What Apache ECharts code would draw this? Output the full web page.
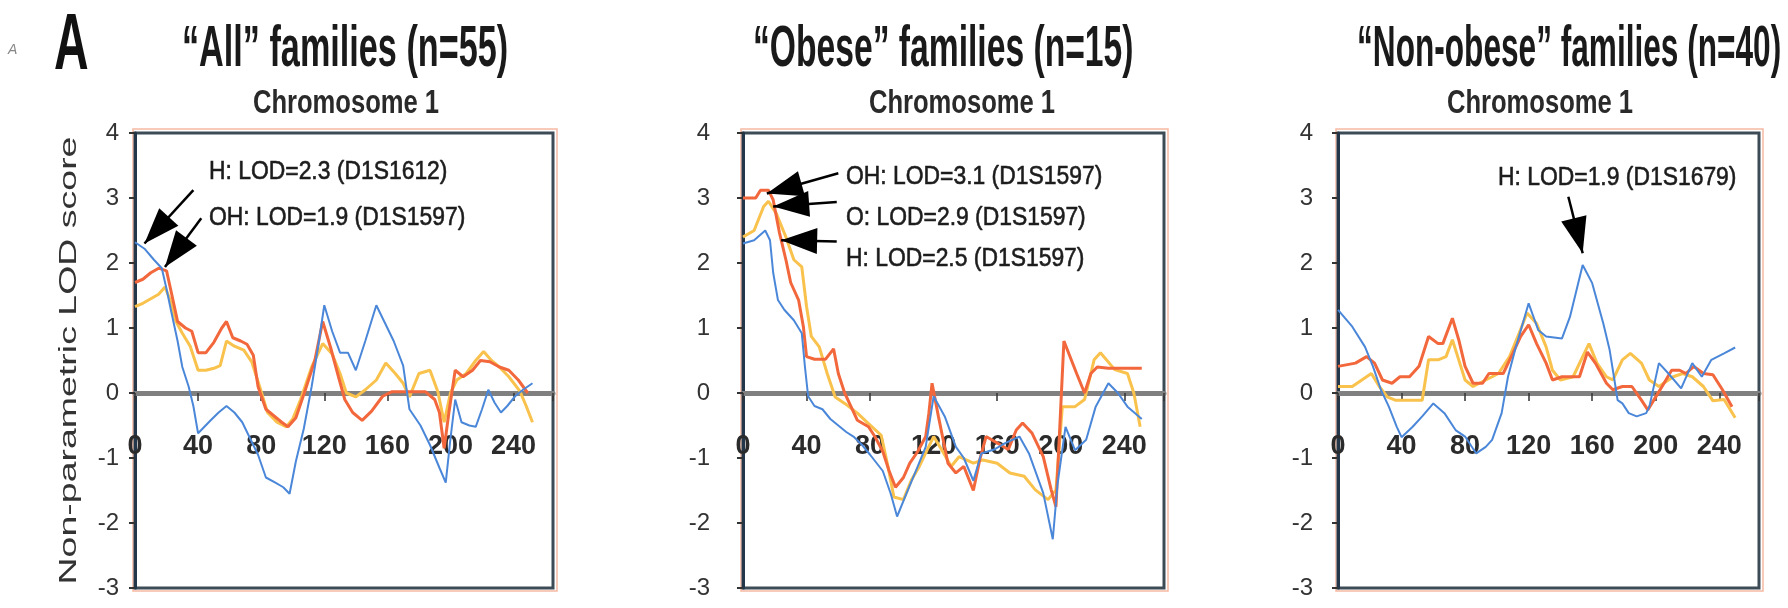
<!DOCTYPE html>
<html><head><meta charset="utf-8">
<script src="https://cdn.jsdelivr.net/npm/echarts/dist/echarts.min.js"></script>
<style>html,body{margin:0;padding:0;background:#fff;overflow:hidden}#c{width:1788px;height:608px}</style>
</head><body><div id="c"></div>
<script>
// ---------- DATA (position cM, non-parametric LOD) ----------
const xTicks = [0, 40, 80, 120, 160, 200, 240];
const yTicks = [-3, -2, -1, 0, 1, 2, 3, 4];
const panelTitles = ['\u201CAll\u201D families (n=55)', '\u201CObese\u201D families (n=15)', '\u201CNon-obese\u201D families (n=40)'];
const chromLabel = 'Chromosome 1';
const yAxisName = 'Non-parametric LOD score';

// "All" families
const allH = [[0,2.32],[6,2.22],[12,2.05],[17,1.92],[20,1.6],[23,1.25],[27,0.8],[30,0.4],[34,0.1],[37,-0.2],[40,-0.62],[44,-0.52],[48,-0.42],[53,-0.3],[58,-0.2],[63,-0.3],[68,-0.45],[73,-0.7],[78,-0.95],[83,-1.3],[89,-1.38],[94,-1.45],[98,-1.55],[102,-1.05],[107,-0.55],[112,0.1],[116,0.7],[120,1.35],[125,0.95],[130,0.62],[135,0.62],[140,0.35],[146,0.8],[153,1.35],[158,1.1],[164,0.8],[170,0.42],[174,-0.25],[181,-0.5],[187,-0.8],[193,-1.15],[197,-1.38],[200,-0.7],[203,-0.1],[207,-0.45],[212,-0.5],[216,-0.52],[220,-0.25],[224,0.05],[228,-0.15],[232,-0.3],[236,-0.2],[241,-0.05],[246,0.05],[252,0.15]];
const allOH = [[0,1.7],[5,1.75],[10,1.85],[15,1.92],[20,1.88],[23,1.55],[27,1.1],[32,1.0],[36,0.95],[40,0.62],[45,0.62],[50,0.78],[55,1.0],[58,1.1],[62,0.85],[67,0.8],[71,0.75],[75,0.58],[78,0.1],[83,-0.25],[88,-0.35],[93,-0.45],[97,-0.52],[102,-0.38],[108,0.05],[114,0.5],[119,1.1],[124,0.7],[129,0.25],[133,-0.1],[138,-0.3],[144,-0.42],[150,-0.28],[157,-0.05],[163,0.02],[170,0.02],[177,0.02],[184,0.02],[190,-0.1],[193,-0.3],[196,-0.85],[199,-0.3],[203,0.35],[208,0.25],[214,0.35],[219,0.5],[225,0.48],[231,0.4],[237,0.35],[243,0.2],[249,0.0]];
const allO = [[0,1.33],[5,1.38],[10,1.45],[15,1.52],[19,1.63],[22,1.45],[26,1.1],[30,0.92],[35,0.72],[40,0.35],[45,0.35],[50,0.38],[54,0.42],[58,0.8],[63,0.72],[69,0.66],[74,0.48],[79,0.1],[84,-0.3],[90,-0.45],[96,-0.52],[100,-0.4],[105,-0.1],[112,0.4],[119,0.76],[125,0.6],[130,0.3],[134,0.0],[140,-0.06],[146,0.05],[153,0.2],[159,0.46],[165,0.3],[170,0.15],[174,-0.06],[180,0.3],[187,0.35],[192,0.02],[196,-0.45],[200,0.0],[204,0.2],[210,0.3],[216,0.5],[221,0.64],[226,0.5],[231,0.4],[237,0.25],[244,0.03],[248,-0.2],[252,-0.45]];

// "Obese" families
const obeseH = [[0,2.3],[7,2.35],[14,2.5],[17,2.35],[19,1.85],[22,1.43],[26,1.28],[32,1.12],[37,0.92],[39,0.4],[41,-0.05],[45,-0.2],[50,-0.25],[55,-0.4],[60,-0.5],[65,-0.6],[70,-0.68],[75,-0.8],[80,-0.95],[88,-1.2],[93,-1.55],[97,-1.9],[103,-1.54],[110,-1.13],[115,-0.83],[120,-0.05],[127,-0.36],[134,-0.83],[139,-1.0],[145,-1.35],[150,-0.93],[158,-0.87],[165,-0.77],[174,-0.67],[180,-0.93],[189,-1.54],[195,-2.25],[198,-1.4],[203,-0.52],[209,-0.88],[216,-0.72],[222,-0.21],[230,0.15],[236,0.0],[242,-0.21],[251,-0.4]];
const obeseOH = [[0,3.0],[8,3.0],[11,3.12],[16,3.12],[19,2.97],[23,2.46],[27,2.05],[30,1.7],[35,1.43],[38,1.02],[40,0.56],[45,0.52],[52,0.52],[57,0.68],[60,0.3],[64,0.0],[68,-0.21],[72,-0.42],[79,-0.52],[83,-0.67],[88,-0.9],[92,-1.2],[96,-1.45],[101,-1.3],[105,-1.08],[110,-0.9],[115,-0.67],[117,-0.31],[119,0.15],[123,-0.36],[129,-1.08],[134,-1.23],[139,-1.13],[145,-1.5],[149,-1.03],[153,-0.67],[160,-0.77],[167,-0.87],[172,-0.57],[176,-0.46],[182,-0.62],[189,-0.98],[194,-1.49],[197,-1.75],[202,0.8],[210,0.3],[215,0.0],[219,0.3],[223,0.4],[230,0.38],[240,0.38],[251,0.38]];
const obeseO = [[0,2.4],[7,2.5],[13,2.87],[16,2.95],[21,2.76],[27,2.4],[32,2.05],[37,1.94],[40,1.33],[43,0.87],[48,0.71],[53,0.3],[58,-0.06],[64,-0.16],[72,-0.31],[79,-0.47],[87,-0.65],[91,-1.1],[95,-1.6],[101,-1.64],[106,-1.34],[111,-1.13],[116,-0.87],[120,-0.67],[125,-0.87],[131,-1.13],[136,-0.98],[145,-1.08],[151,-1.03],[160,-1.08],[168,-1.23],[177,-1.28],[184,-1.49],[192,-1.64],[197,-1.49],[201,-0.21],[209,-0.21],[215,-0.1],[221,0.51],[225,0.62],[234,0.36],[242,0.3],[246,0.0],[250,-0.52]];

// "Non-obese" families
const nonH = [[0,1.28],[9,1.02],[17,0.71],[22,0.41],[27,0.05],[32,-0.21],[37,-0.52],[40,-0.68],[47,-0.52],[53,-0.36],[60,-0.16],[67,-0.31],[74,-0.57],[80,-0.67],[87,-0.93],[93,-0.83],[97,-0.72],[103,-0.31],[107,0.25],[112,0.71],[120,1.38],[126,0.97],[131,0.87],[141,0.84],[146,1.17],[154,1.97],[160,1.69],[167,1.07],[171,0.66],[174,0.2],[176,-0.11],[179,-0.16],[183,-0.31],[188,-0.36],[194,-0.31],[196,-0.21],[202,0.46],[208,0.3],[216,0.07],[223,0.46],[229,0.25],[235,0.51],[243,0.61],[250,0.7]];
const nonOH = [[0,0.41],[11,0.46],[18,0.56],[23,0.46],[28,0.2],[34,0.15],[39,0.25],[45,0.25],[51,0.41],[57,0.87],[63,0.76],[66,0.76],[72,1.15],[76,0.82],[80,0.41],[85,0.15],[91,0.15],[95,0.3],[104,0.3],[110,0.61],[115,0.87],[120,1.05],[125,0.76],[131,0.46],[135,0.2],[141,0.25],[152,0.25],[157,0.63],[162,0.46],[169,0.15],[173,0.05],[179,0.1],[185,0.1],[191,-0.11],[195,-0.26],[200,-0.06],[204,0.1],[210,0.35],[215,0.35],[219,0.3],[224,0.41],[230,0.3],[236,0.28],[242,0.05],[248,-0.21]];
const nonO = [[0,0.1],[9,0.1],[15,0.2],[21,0.3],[26,0.1],[31,-0.06],[36,-0.11],[45,-0.11],[53,-0.11],[57,0.51],[63,0.51],[68,0.56],[72,0.82],[76,0.51],[80,0.2],[85,0.1],[93,0.2],[101,0.3],[108,0.56],[114,0.92],[119,1.23],[125,1.07],[131,0.71],[135,0.35],[140,0.2],[148,0.25],[155,0.61],[158,0.76],[163,0.46],[169,0.25],[173,0.2],[179,0.51],[184,0.61],[191,0.46],[196,0.2],[202,0.1],[211,0.25],[217,0.3],[223,0.25],[230,0.1],[236,-0.12],[243,-0.1],[250,-0.38]];

// annotation texts and arrows (arrow tail -> tip, data coordinates)
const annotAllText = ['H: LOD=2.3 (D1S1612)', 'OH: LOD=1.9 (D1S1597)'];
const annotAllArrows = [[[37, 3.12], [6, 2.3]], [[42, 2.69], [19, 1.94]]];
const annotObeseText = ['OH: LOD=3.1 (D1S1597)', 'O: LOD=2.9 (D1S1597)', 'H: LOD=2.5 (D1S1597)'];
const annotObeseArrows = [[[60, 3.38], [15, 3.07]], [[59, 2.94], [19, 2.87]], [[59, 2.33], [24, 2.35]]];
const annotNonText = ['H: LOD=1.9 (D1S1679)'];
const annotNonArrows = [[[145, 3.02], [154, 2.15]]];

// ---------- LAYOUT & STYLE ----------
const FONT = "'Liberation Sans', Arial, Helvetica, sans-serif";
const TOP = 133, HEIGHT = 455;
const Y_MIN = yTicks[0], Y_MAX = yTicks[yTicks.length - 1];
const ZERO_OFFSET = -HEIGHT * (0 - Y_MIN) / (Y_MAX - Y_MIN); // move x axis up to y = 0
// arrowhead: tip at the centre of a square box so that it lands exactly on the end point
const ARROW_HEAD = 'path://M-36,-36 M36,36 M0,0 L13,36 L-13,36 Z';
const panels = [
  {left: 135, width: 418, H: allH, OH: allOH, O: allO, arrows: annotAllArrows, texts: annotAllText,
   textX: 209, textY: [172, 218], titleX: 182, titleScale: 0.59, chromX: 346, yMargin: 16},
  {left: 743, width: 421, H: obeseH, OH: obeseOH, O: obeseO, arrows: annotObeseArrows, texts: annotObeseText,
   textX: 846, textY: [177, 218, 259], titleX: 753, titleScale: 0.58, chromX: 962, yMargin: 33},
  {left: 1338, width: 421, H: nonH, OH: nonOH, O: nonO, arrows: annotNonArrows, texts: annotNonText,
   textX: 1498, textY: [178], titleX: 1357, titleScale: 0.545, chromX: 1540, yMargin: 25}
];
const C_H = '#4b87d9', C_OH = '#f2683c', C_O = '#f9c24c';

const grid = [], xAxis = [], yAxis = [], series = [], graphic = [];
panels.forEach((p, i) => {
  grid.push({left: p.left, top: TOP, width: p.width, height: HEIGHT, show: true,
    borderColor: '#3d4b57', borderWidth: 3, backgroundColor: 'transparent',
    containLabel: false, outerBoundsMode: 'none'});
  xAxis.push({type: 'value', gridIndex: i, min: 0, max: 265, interval: 40,
    position: 'bottom', offset: ZERO_OFFSET,
    axisLine: {onZero: false, lineStyle: {color: '#808080', width: 5}},
    axisTick: {show: true, length: 8, lineStyle: {color: '#333', width: 1.5}},
    axisLabel: {margin: 40, fontSize: 27, fontWeight: 'bold', fontFamily: FONT, color: '#2b2b2b',
      formatter: v => xTicks.indexOf(v) >= 0 ? String(v) : ''},
    splitLine: {show: false}});
  yAxis.push({type: 'value', gridIndex: i, min: Y_MIN, max: Y_MAX, interval: 1,
    axisLine: {show: true, onZero: false, lineStyle: {color: '#24374a', width: 3}},
    axisTick: {show: true, length: 6, lineStyle: {color: '#333', width: 2}},
    axisLabel: {margin: p.yMargin, fontSize: 24, fontFamily: FONT, color: '#333'},
    splitLine: {show: false}});
  const mk = (data, color, w, name) => ({type: 'line', name, xAxisIndex: i, yAxisIndex: i, data,
    symbol: 'none', showSymbol: false, animation: false, lineStyle: {color, width: w}, z: 3});
  series.push(mk(p.O, C_O, 3, 'O'));
  series.push(mk(p.OH, C_OH, 3, 'OH'));
  const hs = mk(p.H, C_H, 2, 'H');
  hs.markLine = {silent: true, animation: false, symbol: ['none', ARROW_HEAD],
    symbolSize: 72,
    lineStyle: {color: '#000', width: 2.5, type: 'solid', opacity: 1},
    itemStyle: {color: '#000'}, label: {show: false},
    emphasis: {disabled: true}, z: 10,
    data: p.arrows.map(a => [{coord: a[0]}, {coord: a[1]}])};
  series.push(hs);

  // decorative orange outline around plot frame
  graphic.push({type: 'rect', z: -1, shape: {x: p.left - 2, y: TOP - 4, width: p.width + 6, height: HEIGHT + 7},
    style: {fill: 'none', stroke: '#f6b9a2', lineWidth: 1.5}});
  // panel title
  graphic.push({type: 'text', x: p.titleX, y: 50, scaleX: p.titleScale,
    style: {text: panelTitles[i], font: 'bold 58px ' + FONT, fill: '#1a1a1a',
      align: 'left', verticalAlign: 'middle', textAlign: 'left', textVerticalAlign: 'middle'}});
  // chromosome label
  graphic.push({type: 'text', x: p.chromX, y: 104, scaleX: 0.775,
    style: {text: chromLabel, font: 'bold 33px ' + FONT, fill: '#2a2a2a',
      align: 'center', verticalAlign: 'middle', textAlign: 'center', textVerticalAlign: 'middle'}});
  // annotations
  p.texts.forEach((t, k) => {
    graphic.push({type: 'text', x: p.textX, y: p.textY[k], scaleX: 0.88,
      style: {text: t, font: '26px ' + FONT, fill: '#1c1c1c', stroke: '#1c1c1c', lineWidth: 0.6,
        align: 'left', verticalAlign: 'middle', textAlign: 'left', textVerticalAlign: 'middle'}});
  });
});

// big panel letter, stray mark and y-axis name
graphic.push({type: 'text', x: 54, y: 47, scaleX: 0.6,
  style: {text: 'A', font: 'bold 80px ' + FONT, fill: '#111', align: 'left', verticalAlign: 'middle',
    textAlign: 'left', textVerticalAlign: 'middle'}});
graphic.push({type: 'text', x: 8, y: 50,
  style: {text: 'A', font: 'italic 14px ' + FONT, fill: '#888', align: 'left', verticalAlign: 'middle',
    textAlign: 'left', textVerticalAlign: 'middle'}});
graphic.push({type: 'text', x: 70, y: TOP + HEIGHT / 2, rotation: Math.PI / 2, scaleX: 1.63,
  style: {text: yAxisName, font: '23px ' + FONT, fill: '#333', align: 'center', verticalAlign: 'middle',
    textAlign: 'center', textVerticalAlign: 'middle'}});

const chart = echarts.init(document.getElementById('c'), null, {renderer: 'canvas'});
chart.setOption({animation: false, backgroundColor: '#fff', grid, xAxis, yAxis, series, graphic});
</script></body></html>
